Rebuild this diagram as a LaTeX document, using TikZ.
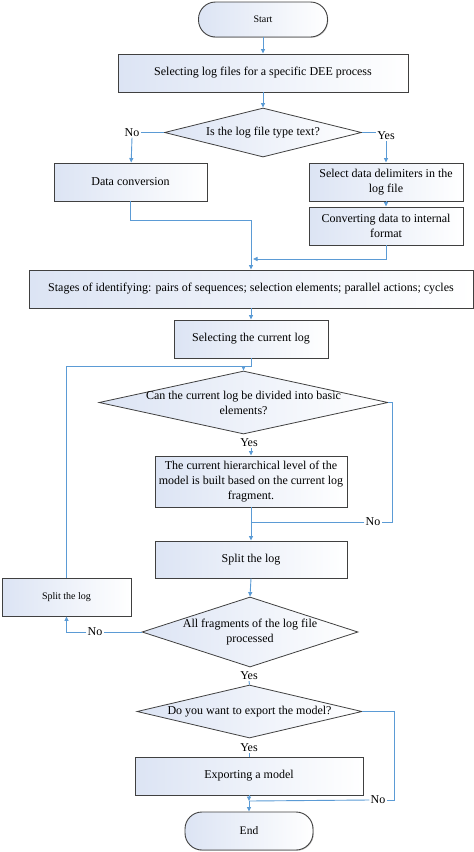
\documentclass[tikz,border=0pt]{standalone}
\usepackage{fontspec}
\setmainfont{Liberation Serif}
\usetikzlibrary{arrows.meta,shapes.geometric,shadows}

\definecolor{flowblue}{RGB}{91,155,213}
\definecolor{boxfill}{RGB}{220,228,244}

\begin{document}
\begin{tikzpicture}[x=1pt,y=-1pt,
txt/.style={font=\fontsize{12}{15}\selectfont},
box/.style={rectangle,draw=black!75,line width=0.9pt,left color=boxfill,right color=white,align=center,inner sep=2pt,txt,drop shadow={shadow xshift=0.8pt,shadow yshift=-0.8pt,opacity=0.4}},
term/.style={box,rounded corners=17pt},
decision/.style={diamond,draw=black!75,line width=0.8pt,left color=boxfill,right color=white,inner sep=0pt},
lbl/.style={txt,inner sep=1pt},
flow/.style={draw=flowblue,line width=0.9pt},
arrow/.style={flow,-{Triangle[length=4.5pt,width=4pt]}} ]

\useasboundingbox (0,0) rectangle (474,852);

\node[term,font=\fontsize{10}{12}\selectfont,minimum width=129pt,minimum height=35pt](start) at (263,19.5) {Start};

\node[box,minimum width=290pt,minimum height=38pt](sel) at (263,73) {Selecting log files for a specific DEE process};

\node[decision,minimum width=197pt,minimum height=49pt,label={[txt]center:Is the log file type text?}](q1) at (263,132.5) {};

\node[box,minimum width=153pt,minimum height=38pt](conv) at (130.5,182) {Data conversion};

\node[box,minimum width=154pt,minimum height=38pt](delim) at (386,182) {Select data delimiters in the\\log file};

\node[box,minimum width=154pt,minimum height=38pt](intl) at (386,226) {Converting data to internal\\format};

\node[box,minimum width=444pt,minimum height=38pt](stages) at (251,289) {Stages of identifying: pairs of sequences; selection elements; parallel actions; cycles};

\node[box,minimum width=154pt,minimum height=38pt](cur) at (251,339) {Selecting the current log};

\node[decision,minimum width=289pt,minimum height=63pt,label={[txt,align=center]center:Can the current log be divided into basic\\elements?}](q2) at (243.5,402.5) {};

\node[box,minimum width=192pt,minimum height=51pt](built) at (251,481.5) {The current hierarchical level of the\\model is built based on the current log\\fragment.};

\node[box,minimum width=192pt,minimum height=37pt](split) at (251,559.5) {Split the log};

\node[box,font=\fontsize{10}{12}\selectfont,minimum width=129pt,minimum height=38pt](splitl) at (66.5,597) {Split the log};

\node[decision,minimum width=216pt,minimum height=70pt,label={[txt,align=center]center:All fragments of the log file\\processed}](q3) at (250,632) {};

\node[decision,minimum width=225pt,minimum height=53pt,label={[txt]center:Do you want to export the model?}](q4) at (249.5,711.5) {};

\node[box,minimum width=228pt,minimum height=38pt](exp) at (249,776) {Exporting a model};

\node[term,font=\fontsize{11.5}{13}\selectfont,minimum width=128pt,minimum height=38pt](endn) at (249,831) {End};

\node[lbl](no1) at (132,132.5) {No};
\node[lbl](yes1) at (386,136) {Yes};
\node[lbl](yes2) at (249,443) {Yes};
\node[lbl](no2) at (373,522) {No};
\node[lbl](no3) at (95,632) {No};
\node[lbl](yes3) at (249,676) {Yes};
\node[lbl](yes4) at (249,748) {Yes};
\node[lbl](no4) at (378,800) {No};

\coordinate (m1) at (251,220);
\coordinate (m2) at (253,259);
\coordinate (j1) at (243.5,366);
\coordinate (j2) at (249,801);

\draw[arrow] (start) -- (sel);

\draw[arrow] (sel) -- (q1);

\draw[flow] (q1.west) -- (no1.east);

\draw[arrow] (no1.south) -- (conv);

\draw[flow] (q1.east) -- (q1.east -| yes1.west);

\draw[arrow] (yes1.south) -- (delim);

\draw[arrow] (delim) -- (intl);

\draw[arrow] (conv.south) |- (m1) -- (stages);

\draw[arrow] (intl.south) |- (m2);

\draw[arrow] (stages) -- (cur);

\draw[flow] (cur.south) |- (j1);

\draw[flow] (splitl.north) |- (j1);

\draw[arrow] (j1) -- (q2.north);

\draw[arrow] (yes2.south -| built.north) -- (built.north);

\draw[arrow] (built) -- (split);

\draw[flow] (q2.east) -- ++(4,0) |- (no2.east);

\draw[flow] (no2.west) -- (no2.west -| built.south);

\draw[arrow] (split.south) -- (q3.north);

\draw[flow] (q3.west) -- (no3.east);

\draw[arrow] (no3.west) -| (splitl.south);

\draw[flow] (yes3.south) -- (q4.north);

\draw[flow] (yes4.south) -- (exp.north);

\draw[flow] (q4.east) -- ++(32,0) |- (no4.east);

\draw[flow] (no4.west) -- (j2);

\draw[arrow] (exp.south) -- (j2);

\draw[arrow] (j2) -- (endn.north);
\end{tikzpicture}
\end{document}
